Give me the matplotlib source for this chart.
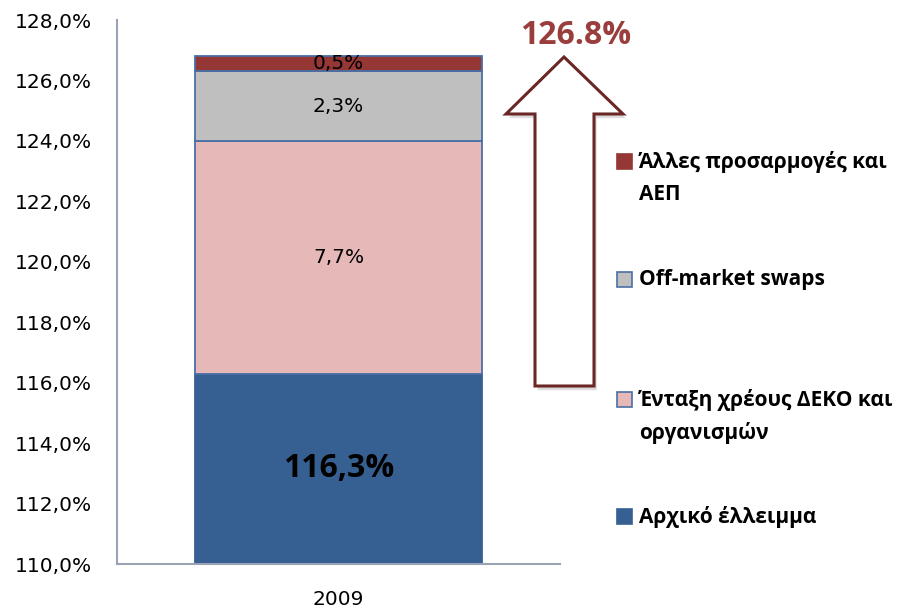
import matplotlib
matplotlib.use("Agg")
from matplotlib import pyplot as plt
from matplotlib.patches import Polygon, Rectangle
from matplotlib import patheffects as pe

# data
category = "2009"
segment_names = ["Αρχικό έλλειμμα",
                 "Ένταξη χρέους ΔΕΚΟ και\nοργανισμών",
                 "Off-market swaps",
                 "Άλλες προσαρμογές και\nΑΕΠ"]
segment_values = [116.3, 7.7, 2.3, 0.5]
segment_labels = ["116,3%", "7,7%", "2,3%", "0,5%"]
segment_colors = ["#376092", "#e6b9b8", "#bfbfbf", "#953735"]
total_label = "126.8%"
y_ticks = [110, 112, 114, 116, 118, 120, 122, 124, 126, 128]
y_tick_labels = ["%d,0%%" % t for t in y_ticks]

W, H = 910, 613


def fx(px):
    return px / W


def fy(py):
    return 1 - py / H


if __name__ == "__main__":

    plt.rcParams["font.family"] = ["DejaVu Sans"]

    fig = plt.figure(figsize=(9.1, 6.13), dpi=100)
    ax = fig.add_axes([fx(117), fy(564), fx(560) - fx(117), fy(20) - fy(564)])

    ymin, ymax = 110, 128
    bottom = 0
    for i, (val, col, lab) in enumerate(zip(segment_values, segment_colors, segment_labels)):
        ec = col if i == 0 else "#4a6fa5"
        ax.bar([0], [val], bottom=bottom, width=0.65, color=col,
               edgecolor=ec, linewidth=1.3, zorder=2)
        # label in the middle of the visible part of the segment
        ymid = (max(bottom, ymin) + bottom + val) / 2
        if i == 0:
            ax.text(0, ymid, lab, ha="center", va="center", fontsize=23,
                    fontweight="bold", family=["Open Sans", "DejaVu Sans"], zorder=3)
        else:
            ax.text(0, ymid, lab, ha="center", va="center", fontsize=14.5, zorder=3)
        bottom += val

    ax.set_xlim(-0.5, 0.5)
    ax.set_ylim(ymin, ymax)
    ax.set_yticks(y_ticks)
    ax.set_yticklabels(y_tick_labels)
    ax.set_xticks([0])
    ax.set_xticklabels([category])
    ax.tick_params(axis="both", length=0, labelsize=14.5, colors="black")
    ax.tick_params(axis="y", pad=18)
    ax.tick_params(axis="x", pad=19)

    for s in ["top", "right"]:
        ax.spines[s].set_visible(False)
    for s in ["left", "bottom"]:
        ax.spines[s].set_color("#9aa3b5")
        ax.spines[s].set_linewidth(1.5)

    # big hollow arrow
    arrow_px = [(564, 57), (623, 114), (594, 114), (594, 386),
                (535, 386), (535, 114), (506, 114)]
    arrow = Polygon([(fx(x), fy(y)) for x, y in arrow_px], closed=True,
                    transform=fig.transFigure, facecolor="white",
                    edgecolor="#6b2626", linewidth=2.2, zorder=5,
                    path_effects=[pe.SimplePatchShadow(offset=(2, -3), shadow_rgbFace="#bbbbbb", alpha=0.5),
                                  pe.Normal()])
    fig.patches.append(arrow)

    fig.text(fx(576), fy(36), total_label, ha="center", va="center",
             fontsize=23, fontweight="bold", color="#993d3d",
             family=["Open Sans", "DejaVu Sans"])

    # legend, drawn by hand like the Excel one
    legend_y = [517, 400, 280, 162]
    for name, col, y in zip(segment_names, segment_colors, legend_y):
        ec = col if col in ("#376092", "#953735") else "#4a6fa5"
        fig.patches.append(Rectangle((fx(617), fy(y + 7)), fx(15), 15 / H,
                                     transform=fig.transFigure, facecolor=col,
                                     edgecolor=ec, linewidth=1.2))
        for k, line in enumerate(name.split("\n")):
            fig.text(fx(639), fy(y + k * 33), line, ha="left", va="center",
                     fontsize=15, fontweight="bold",
                     family=["Open Sans", "DejaVu Sans"])

    plt.savefig("out.png", dpi=100)
